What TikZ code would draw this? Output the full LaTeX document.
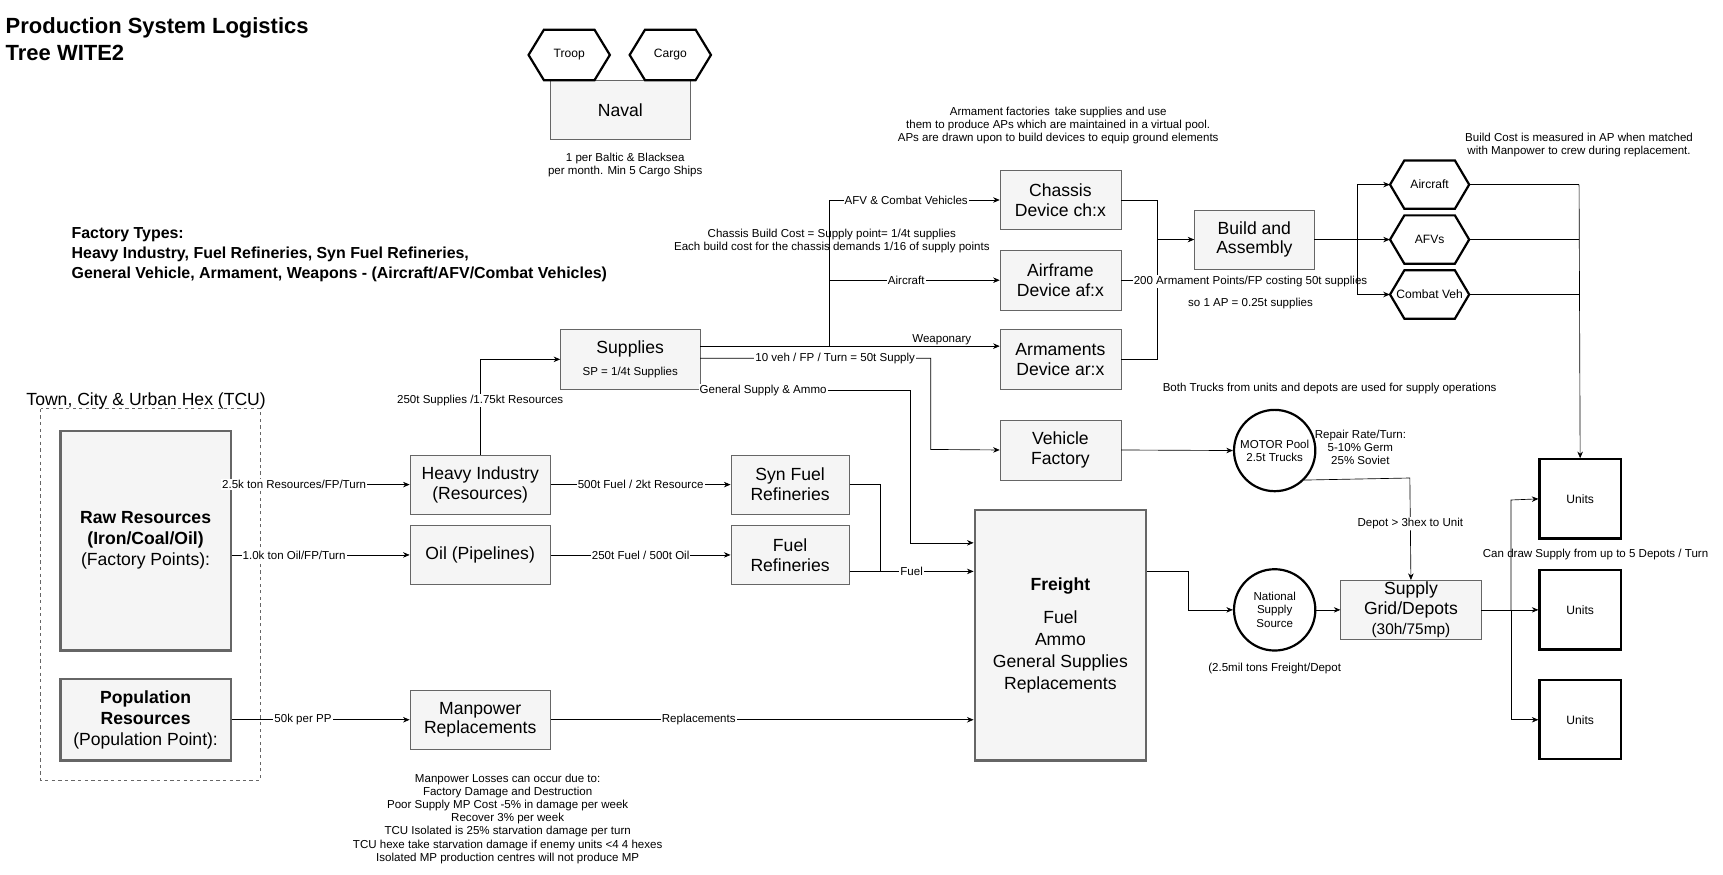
\documentclass[tikz,border=0pt]{standalone}
\usepackage{fontspec}
\setmainfont{Liberation Sans}
\usetikzlibrary{shapes.geometric,arrows.meta}
\begin{document}
\begin{tikzpicture}[x=1pt,y=-1pt,
 sm/.style={font=\fontsize{10.5}{12}\selectfont,align=center,inner sep=1pt},
 lbl/.style={font=\fontsize{10.5}{12}\selectfont,fill=white,inner sep=1pt},
 box/.style={draw=black!60,fill=black!4,font=\fontsize{16}{18}\selectfont,align=center,inner sep=0pt},
 thick box/.style={draw=black!60,line width=2pt,fill=black!4,align=center,inner sep=0pt},
 unit/.style={draw,line width=2pt,fill=white,minimum width=74pt,minimum height=72pt,font=\fontsize{11}{13}\selectfont},
 circ/.style={circle,draw,line width=2pt,fill=white,minimum size=74pt,inner sep=0pt,align=center,font=\fontsize{10.5}{12}\selectfont},
 arr/.style={-{Stealth[length=6pt,width=5pt]}},
 ln/.style={line width=0.6pt}]
\useasboundingbox (0,0) rectangle (1568,795.5);
\node[anchor=north west,align=left,font=\bfseries\fontsize{20}{24}\selectfont,inner sep=0pt] (title) at (5,16) {Production System Logistics\\Tree WITE2};
% naval
\node[box,minimum width=127pt,minimum height=54pt] (naval) at (564.5,100) {Naval};
\draw[line width=2pt,fill=white] (481,50)--(495,27)--(541,27)--(555,50)--(541,73)--(495,73)--cycle;
\node[font=\fontsize{11}{13}\selectfont] (troop) at (518,50) {Troop};
\draw[line width=2pt,fill=white] (573,50)--(587,27)--(633,27)--(647,50)--(633,73)--(587,73)--cycle;
\node[font=\fontsize{11}{13}\selectfont] (cargo) at (610,50) {Cargo};
\node[sm] (navt) at (569,150) {1 per Baltic \& Blacksea\\per month. Min 5 Cargo Ships};
% factory types
\node[anchor=north west,align=left,font=\bfseries\fontsize{14.5}{18}\selectfont,inner sep=0pt] (ft) at (65,207) {Factory Types:\\Heavy Industry, Fuel Refineries, Syn Fuel Refineries,\\General Vehicle, Armament, Weapons - (Aircraft/AFV/Combat Vehicles)};
% TCU
\draw[dashed,black!60,ln] (37,372) rectangle (237,710);
\node[font=\fontsize{16}{18}\selectfont] (tcu) at (133,365) {Town, City \& Urban Hex (TCU)};
\node[thick box,minimum width=155pt,minimum height=200pt,font=\fontsize{16}{19}\selectfont] (raw) at (132.5,492) {\textbf{Raw Resources}\\\textbf{(Iron/Coal/Oil)}\\(Factory Points):};
\node[thick box,minimum width=155pt,minimum height=74pt,font=\fontsize{16}{19}\selectfont] (pop) at (132.5,655) {\textbf{Population}\\\textbf{Resources}\\(Population Point):};
% mid
\node[box,minimum width=128pt,minimum height=54pt] (heavy) at (437,441) {Heavy Industry\\(Resources)};
\node[box,minimum width=128pt,minimum height=54pt] (oil) at (437,505) {Oil (Pipelines)};
\node[box,minimum width=127pt,minimum height=54pt] (sup) at (573.5,327) {Supplies\\[2pt]{\fontsize{10.5}{12}\selectfont SP = 1/4t Supplies}};
\node[box,minimum width=128pt,minimum height=54pt] (man) at (437,655) {Manpower\\Replacements};
\node[box,minimum width=108pt,minimum height=54pt] (syn) at (719,441) {Syn Fuel\\Refineries};
\node[box,minimum width=108pt,minimum height=54pt] (fuel) at (719,505) {Fuel\\Refineries};
\node[box,minimum width=110pt,minimum height=54pt] (chas) at (965,182) {Chassis\\Device ch:x};
\node[box,minimum width=110pt,minimum height=54pt] (air) at (965,255) {Airframe\\Device af:x};
\node[box,minimum width=110pt,minimum height=54pt] (arm) at (965,327) {Armaments\\Device ar:x};
\node[box,minimum width=110pt,minimum height=55pt] (veh) at (965,409.5) {Vehicle\\Factory};
\node[box,minimum width=109pt,minimum height=54pt] (build) at (1141.5,218) {Build and\\Assembly};
\node[thick box,minimum width=156pt,minimum height=228pt,font=\fontsize{16}{20}\selectfont] (frei) at (965,578) {\textbf{Freight}\\[10pt]Fuel\\Ammo\\General Supplies\\Replacements};
\foreach \n/\y/\t in {hA/168/Aircraft,hB/218/AFVs,hC/268/Combat Veh}{
 \draw[line width=2pt,fill=white] (1265,\y)--(1278,\y-22)--(1324,\y-22)--(1337,\y)--(1324,\y+22)--(1278,\y+22)--cycle;
 \node[font=\fontsize{11}{13}\selectfont,inner sep=0pt,minimum width=72pt,minimum height=44pt] (\n) at (1301,\y) {\t};
}
\node[circ] (motor) at (1160,410) {MOTOR Pool\\2.5t Trucks};
\node[circ] (nat) at (1160,555) {National\\Supply\\Source};
\node[box,minimum width=128pt,minimum height=54pt] (grid) at (1284,555) {Supply\\Grid/Depots\\{\fontsize{14}{16}\selectfont(30h/75mp)}};
\node[unit] (u1) at (1438,454) {Units};
\node[unit] (u2) at (1438,555) {Units};
\node[unit] (u3) at (1438,655) {Units};
% texts
\node[sm] (t1) at (963,114) {Armament factories\, take supplies and use\\them to produce APs which are maintained in a virtual pool.\\APs are drawn upon to build devices to equip ground elements};
\node[sm] (t2) at (757,219) {Chassis Build Cost = Supply point= 1/4t supplies\\Each build cost for the chassis demands 1/16 of supply points};
\node[sm] (t3) at (1437,132) {Build Cost is measured in AP when matched\\with Manpower to crew during replacement.};
\node[sm] (t4) at (1210,354) {Both Trucks from units and depots are used for supply operations};
\node[sm] (t5) at (1238,407) {Repair Rate/Turn:\\5-10\% Germ\\25\% Soviet};
\node[sm] (t6) at (1160,608) {(2.5mil tons Freight/Depot};
\node[sm] (t7) at (1452,505) {Can draw Supply from up to 5 Depots / Turn};
\node[sm] (t8) at (462,745) {Manpower Losses can occur due to:\\Factory Damage and Destruction\\Poor Supply MP Cost -5\% in damage per week\\Recover 3\% per week\\TCU Isolated is 25\% starvation damage per turn\\TCU hexe take starvation damage if enemy units <4 4 hexes\\Isolated MP production centres will not produce MP};
% edges
\draw[arr,ln] (raw.east|-heavy) -- node[lbl,pos=0.35]{2.5k ton Resources/FP/Turn} (heavy.west);
\draw[arr,ln] (raw.east|-oil) -- node[lbl,pos=0.35]{1.0k ton Oil/FP/Turn} (oil.west);
\draw[arr,ln] (heavy.north) -- node[lbl,pos=0.57]{250t Supplies /1.75kt Resources} (437,327) -- (sup.west);
\draw[arr,ln] (heavy.east) -- node[lbl]{500t Fuel / 2kt Resource} (syn.west);
\draw[arr,ln] (oil.east) -- node[lbl]{250t Fuel / 500t Oil} (fuel.west);
\draw[ln] (syn.east) -- (801,441) -- (801,520);
\draw[arr,ln] (fuel.south east|-0,520) -- node[lbl,pos=0.5]{Fuel} (frei.west|-0,520);
\draw[arr,ln] (sup.south east|-0,355) -- node[lbl,pos=0.3]{General Supply \& Ammo} (828,355) -- (828,494) -- (frei.west|-0,494);
\draw[ln] (sup.east|-0,315) -- (755,315) -- (755,182);
\draw[arr,ln] (755,182) -- node[lbl,pos=0.45]{AFV \& Combat Vehicles} (chas.west);
\draw[arr,ln] (755,255) -- node[lbl,pos=0.45]{Aircraft} (air.west);
\draw[arr,ln] (755,315) -- (arm.west|-0,315);
\node[lbl] (wlab) at (857,309) {Weaponary};
\draw[arr,ln] (sup.east|-0,326) -- (847,326) -- (847,409) -- (veh.west);
\node[lbl] (vlab) at (760,326) {10 veh / FP / Turn = 50t Supply};
\draw[ln] (chas.east) -- (1053,182) -- (1053,327) -- (arm.east);
\draw[ln] (air.east) -- (1053,255);
\draw[arr,ln] (1053,218) -- (build.west);
\node[lbl] (t9) at (1138,256) {200 Armament Points/FP costing 50t supplies};
\node[sm] (t10) at (1138,276) {so 1 AP = 0.25t supplies};
\draw[arr,ln] (build.east) -- (hB.west);
\draw[arr,ln] (1235,218) -- (1235,168) -- (hA.west);
\draw[arr,ln] (1235,218) -- (1235,268) -- (hC.west);
\draw[ln] (hA.east) -- (1437,168);
\draw[ln] (hB.east) -- (1437,218);
\draw[ln] (hC.east) -- (1437,268);
\draw[arr,ln] (1437,168) -- (u1.north);
\draw[arr,ln] (veh.east) -- (motor.west);
\draw[arr,ln] (motor.south east) -- (1283,435) -- node[lbl,pos=0.45]{Depot > 3hex to Unit} (grid.north);
\draw[arr,ln] (frei.east|-0,520) -- (1081,520) -- (1081,555) -- (nat.west);
\draw[arr,ln] (nat.east) -- (grid.west);
\draw[arr,ln] (grid.east) -- (u2.west);
\draw[arr,ln] (1375,555) -- (1375,455) -- (u1.west);
\draw[arr,ln] (1375,555) -- (1375,655) -- (u3.west);
\draw[arr,ln] (pop.east) -- node[lbl,pos=0.4]{50k per PP} (man.west);
\draw[arr,ln] (man.east) -- node[lbl,pos=0.35]{Replacements} (frei.west|-0,655);
\end{tikzpicture}
\end{document}
